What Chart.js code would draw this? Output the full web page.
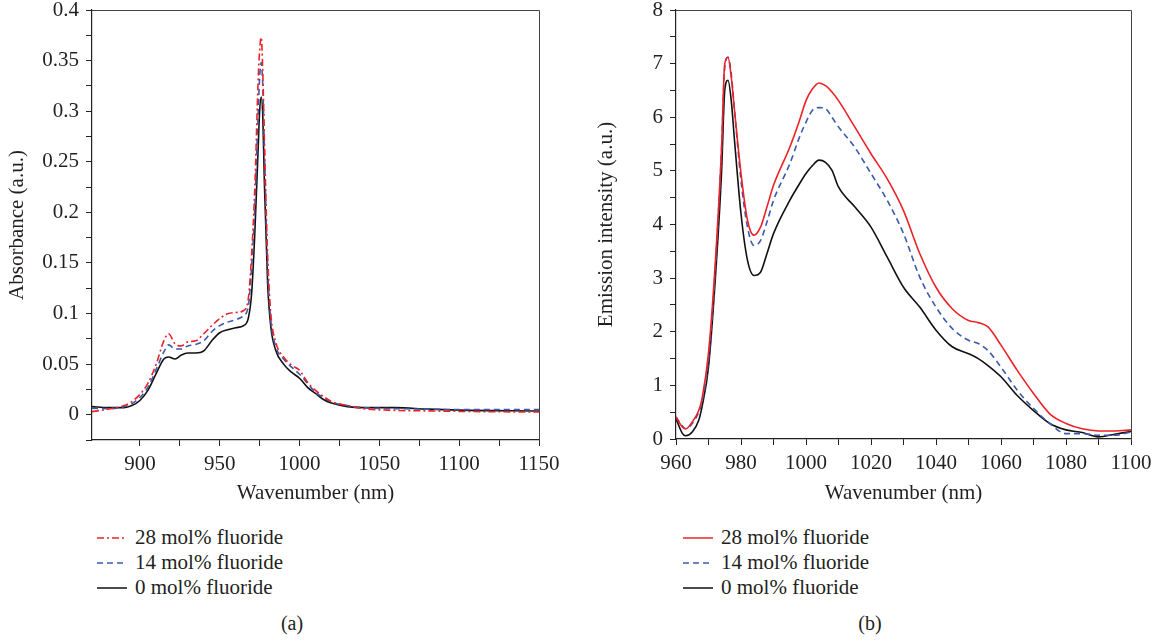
<!DOCTYPE html>
<html>
<head>
<meta charset="utf-8">
<script src="https://cdn.jsdelivr.net/npm/chart.js@4.4.0/dist/chart.umd.min.js"></script>
<style>
    body { margin: 0; width: 1160px; height: 642px; background: #fff; position: relative; overflow: hidden;
           font-family: "Liberation Serif", "Times New Roman", serif; color: #231f20; }
    canvas { position: absolute; top: 0; }
    .legend { position: absolute; top: 525px; font-size: 21px; }
    .legend div { height: 25px; display: flex; align-items: center; }
    .legend svg { margin-right: 8px; }
    .caption { position: absolute; top: 612px; font-size: 20px; width: 40px; text-align: center; }
</style>
</head>
<body>
<canvas id="chartA" width="580" height="515" style="left:0"></canvas>
<canvas id="chartB" width="580" height="515" style="left:580px"></canvas>
<div class="legend" id="legendA" style="left:97px"></div>
<div class="legend" id="legendB" style="left:683px"></div>
<div class="caption" style="left:272px">(a)</div>
<div class="caption" style="left:850px">(b)</div>

<script>
// Series names (same for both panels)
const seriesLabels = ['28 mol% fluoride', '14 mol% fluoride', '0 mol% fluoride'];

// Panel (a): absorbance
const wavelengthA = [870, 880, 890, 895, 900, 905, 910, 915, 918, 922, 926, 930, 935, 940, 945, 950, 955, 960, 965, 968,
    970, 972, 974, 975, 976, 977, 978, 980, 982, 985, 990, 995, 1000, 1005, 1010, 1015, 1020, 1030, 1040, 1060, 1080, 1100, 1150];
const abs28 = [0.003, 0.0055, 0.009, 0.013, 0.020, 0.031, 0.049, 0.073, 0.080, 0.070, 0.068, 0.072, 0.073, 0.080, 0.088, 0.095, 0.0998, 0.101, 0.103, 0.116,
    0.159, 0.225, 0.327, 0.36, 0.373, 0.337, 0.271, 0.159, 0.10, 0.072, 0.057, 0.049, 0.044, 0.032, 0.024, 0.018, 0.013, 0.009, 0.006, 0.0043, 0.0038, 0.0033, 0.0026];
const abs14 = [0.0065, 0.006, 0.008, 0.011, 0.017, 0.027, 0.044, 0.062, 0.069, 0.065, 0.065, 0.068, 0.0695, 0.073, 0.082, 0.088, 0.0915, 0.094, 0.098, 0.108,
    0.146, 0.205, 0.294, 0.333, 0.348, 0.324, 0.261, 0.146, 0.093, 0.068, 0.055, 0.047, 0.040, 0.031, 0.022, 0.017, 0.0125, 0.009, 0.007, 0.006, 0.0055, 0.005, 0.005];
const abs0 = [0.008, 0.007, 0.007, 0.009, 0.014, 0.024, 0.040, 0.055, 0.057, 0.055, 0.059, 0.061, 0.061, 0.063, 0.073, 0.081, 0.084, 0.086, 0.088, 0.096,
    0.12, 0.18, 0.26, 0.30, 0.314, 0.294, 0.228, 0.13, 0.087, 0.064, 0.050, 0.042, 0.036, 0.027, 0.021, 0.015, 0.0115, 0.008, 0.007, 0.007, 0.0055, 0.0045, 0.0037];

// Panel (b): emission
const wavelengthB = [960, 962, 963, 965, 967, 968, 970, 972, 974, 975, 976, 977, 978, 980, 982, 984, 986, 988, 990, 995,
    998, 1000, 1002, 1004, 1006, 1008, 1010, 1015, 1020, 1025, 1030, 1035, 1040, 1045, 1050, 1053, 1056, 1060, 1065, 1070,
    1075, 1080, 1085, 1090, 1095, 1100];
const em28 = [0.41, 0.22, 0.19, 0.32, 0.53, 0.75, 1.6, 3.2, 5.4, 7.0, 7.12, 6.75, 6.13, 4.95, 4.08, 3.80, 3.95, 4.33, 4.73, 5.44,
    5.94, 6.31, 6.53, 6.64, 6.59, 6.47, 6.31, 5.82, 5.32, 4.85, 4.26, 3.46, 2.83, 2.43, 2.21, 2.17, 2.09, 1.75, 1.28, 0.85,
    0.47, 0.29, 0.19, 0.15, 0.15, 0.17];
const em14 = [0.41, 0.24, 0.19, 0.29, 0.50, 0.69, 1.47, 3.08, 5.38, 6.94, 7.12, 6.81, 6.13, 4.82, 3.95, 3.61, 3.70, 4.05, 4.45, 5.13,
    5.63, 5.91, 6.13, 6.18, 6.16, 6.00, 5.82, 5.44, 4.95, 4.45, 3.83, 3.02, 2.46, 2.06, 1.84, 1.78, 1.65, 1.34, 0.91, 0.57,
    0.29, 0.10, 0.10, 0.07, 0.07, 0.13];
const em0 = [0.38, 0.10, 0.06, 0.13, 0.35, 0.60, 1.34, 2.90, 4.95, 6.5, 6.69, 6.31, 5.57, 4.20, 3.33, 3.05, 3.11, 3.46, 3.83, 4.45,
    4.76, 4.95, 5.10, 5.20, 5.16, 5.01, 4.70, 4.33, 3.95, 3.39, 2.83, 2.46, 2.03, 1.72, 1.59, 1.50, 1.37, 1.16, 0.81, 0.53,
    0.29, 0.17, 0.12, 0.04, 0.09, 0.14];

const RED = '#ec2227';
const BLUE = '#3a5aad';
const BLACK = '#111111';
const FONT = '"Liberation Serif", "Times New Roman", serif';

// Top and right border of the plot box
const framePlugin = {
    id: 'frame',
    afterDraw(chart) {
        const { ctx, chartArea: a } = chart;
        ctx.save();
        ctx.strokeStyle = '#444';
        ctx.lineWidth = 1;
        ctx.beginPath();
        ctx.moveTo(a.left, Math.round(a.top) + 0.5);
        ctx.lineTo(Math.round(a.right) + 0.5, Math.round(a.top) + 0.5);
        ctx.lineTo(Math.round(a.right) + 0.5, a.bottom);
        ctx.stroke();
        ctx.restore();
    }
};

function series(xs, ys, label, color, dash) {
    return {
        label: label,
        data: xs.map((x, i) => ({ x: x, y: ys[i] })),
        borderColor: color,
        borderWidth: 1.6,
        borderDash: dash,
        pointRadius: 0,
        cubicInterpolationMode: 'monotone',
        fill: false
    };
}

function isMultiple(v, step) {
    const r = v / step;
    return Math.abs(r - Math.round(r)) < 1e-6;
}

function createPanel(canvas, datasets, cfg) {
    return new Chart(canvas, {
        type: 'line',
        data: { datasets: datasets },
        plugins: [framePlugin],
        options: {
            responsive: false,
            animation: false,
            devicePixelRatio: 1,
            layout: { padding: cfg.padding },
            plugins: { legend: { display: false }, tooltip: { enabled: false } },
            scales: {
                x: {
                    type: 'linear',
                    min: cfg.xMin, max: cfg.xMax,
                    afterBuildTicks: s => { s.ticks = s.ticks.filter(t => isMultiple(t.value, cfg.xStep)); },
                    afterFit: s => { s.height = cfg.xHeight; s.paddingLeft = 0; s.paddingRight = 0; },
                    ticks: {
                        stepSize: cfg.xStep, maxTicksLimit: 100, autoSkip: false, maxRotation: 0,
                        padding: 6, color: '#231f20', font: { family: FONT, size: 21 },
                        callback: v => isMultiple(v, cfg.xLabelStep) ? String(v) : ''
                    },
                    grid: { drawOnChartArea: false, tickLength: 6, tickColor: '#222' },
                    border: { color: '#222', width: 1.2 },
                    title: { display: true, text: 'Wavenumber (nm)', color: '#231f20',
                             font: { family: FONT, size: 21 }, padding: { top: 0, bottom: 9 } }
                },
                y: {
                    min: cfg.yMin, max: cfg.yMax,
                    afterBuildTicks: s => { s.ticks = s.ticks.filter(t => isMultiple(t.value, cfg.yStep)); },
                    afterFit: s => { s.width = cfg.yWidth; s.paddingTop = 0; s.paddingBottom = 0; },
                    ticks: {
                        stepSize: cfg.yStep, maxTicksLimit: 100, autoSkip: false,
                        padding: 7, color: '#231f20', font: { family: FONT, size: 21 },
                        callback: v => (v >= 0 && isMultiple(v, cfg.yLabelStep)) ? String(+v.toFixed(2)) : ''
                    },
                    grid: { drawOnChartArea: false, tickLength: 6, tickColor: '#222' },
                    border: { color: '#222', width: 1.2 },
                    title: { display: true, text: cfg.yTitle, color: '#231f20',
                             font: { family: FONT, size: 21 }, padding: { top: cfg.yTitlePad, bottom: 0 } }
                }
            }
        }
    });
}

// Legend below each panel, built from the datasets
function buildLegend(el, datasets) {
    el.innerHTML = datasets.map(d => {
        const dash = d.borderDash ? d.borderDash.join(',') : 'none';
        return '<div><svg width="30" height="6"><line x1="0" y1="3" x2="30" y2="3" stroke="' + d.borderColor +
            '" stroke-width="1.5" stroke-dasharray="' + dash + '"/></svg><span>' + d.label + '</span></div>';
    }).join('');
}

const dsA = [
    series(wavelengthA, abs28, seriesLabels[0], RED, [7, 3, 2, 3]),
    series(wavelengthA, abs14, seriesLabels[1], BLUE, [6, 4]),
    series(wavelengthA, abs0, seriesLabels[2], BLACK, undefined)
];
const dsB = [
    series(wavelengthB, em28, seriesLabels[0], RED, undefined),
    series(wavelengthB, em14, seriesLabels[1], BLUE, [6, 4]),
    series(wavelengthB, em0, seriesLabels[2], BLACK, undefined)
];

createPanel(document.getElementById('chartA'), dsA, {
    padding: { top: 10, right: 41, left: 0, bottom: 0 },
    xMin: 870, xMax: 1150, xStep: 25, xLabelStep: 50, xHeight: 75,
    yMin: -0.025, yMax: 0.4, yStep: 0.025, yLabelStep: 0.05, yWidth: 92,
    yTitle: 'Absorbance (a.u.)', yTitlePad: 5
});

createPanel(document.getElementById('chartB'), dsB, {
    padding: { top: 10, right: 29, left: 0, bottom: 0 },
    xMin: 960, xMax: 1100, xStep: 10, xLabelStep: 20, xHeight: 76,
    yMin: 0, yMax: 8, yStep: 0.5, yLabelStep: 1, yWidth: 96,
    yTitle: 'Emission intensity (a.u.)', yTitlePad: 14
});

buildLegend(document.getElementById('legendA'), dsA);
buildLegend(document.getElementById('legendB'), dsB);
</script>
</body>
</html>
